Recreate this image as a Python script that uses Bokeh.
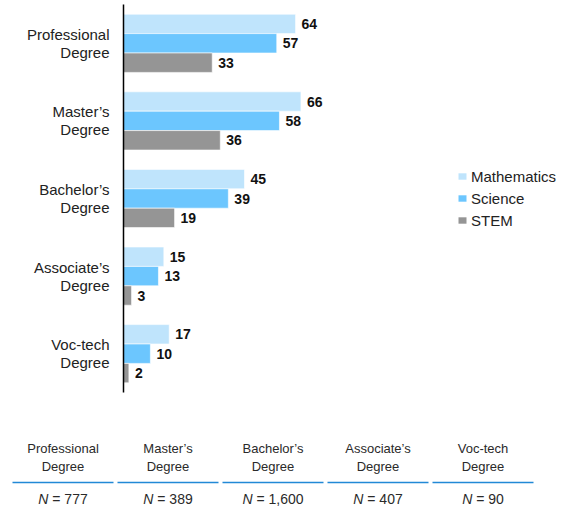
from bokeh.plotting import figure
from bokeh.models import ColumnDataSource, FactorRange, Range1d, Legend, LegendItem
from bokeh.transform import dodge
from bokeh.embed import file_html
from bokeh.resources import INLINE
from bokeh.core.properties import value

# ---------------- data ----------------
degrees = ["Professional Degree", "Master\u2019s Degree", "Bachelor\u2019s Degree",
           "Associate\u2019s Degree", "Voc-tech Degree"]
mathematics = [64, 66, 45, 15, 17]
science = [57, 58, 39, 13, 10]
stem = [33, 36, 19, 3, 2]
sample_n = [777, 389, 1600, 407, 90]
series_names = ["Mathematics", "Science", "STEM"]

# ---------------- styles ----------------
FONT = "Liberation Sans"
COLORS = ["#BFE4FC", "#6CC6FE", "#959595"]
OFFSETS = [0.25, 0.0, -0.25]

two_line = [d.rsplit(" ", 1)[0] + "\n" + d.rsplit(" ", 1)[1] for d in degrees]

src = ColumnDataSource(dict(
    cat=two_line,
    math=mathematics, sci=science, stem=stem,
    math_t=[str(v) for v in mathematics],
    sci_t=[str(v) for v in science],
    stem_t=[str(v) for v in stem],
))

p = figure(width=572, height=400,
           y_range=FactorRange(factors=two_line[::-1], range_padding=0),
           x_range=Range1d(0, 167),
           output_backend="svg", toolbar_location=None,
           min_border_left=123, min_border_right=0,
           min_border_top=4, min_border_bottom=8)
p.outline_line_color = None
p.xgrid.visible = False
p.ygrid.visible = False
p.xaxis.visible = False
p.yaxis.axis_line_color = "black"
p.yaxis.axis_line_width = 1.5
p.yaxis.major_tick_out = 0
p.yaxis.major_tick_in = 0
p.yaxis.minor_tick_out = 0
p.yaxis.major_label_standoff = 14
p.yaxis.major_label_text_font = FONT
p.yaxis.major_label_text_font_size = "15px"
p.yaxis.major_label_text_line_height = 1.05
p.yaxis.major_label_text_color = "#222222"

legend_items = []
for col, off, color, name in zip(["math", "sci", "stem"], OFFSETS, COLORS, series_names):
    p.hbar(y=dodge("cat", off, range=p.y_range), left=0, right=col, height=0.25,
           fill_color=color, line_color="white", line_alpha=0.6, line_width=1, source=src)
    p.text(x=col, y=dodge("cat", off, range=p.y_range), text=col + "_t",
           x_offset=6, text_baseline="middle", text_align="left",
           text_font=value(FONT), text_font_style="bold", text_font_size="14px",
           text_color="#111111", source=src)
    # zero-height twin used only for a clean legend swatch
    sw = p.hbar(y=dodge("cat", off, range=p.y_range), left=0, right=col, height=0,
                fill_color=color, line_color=None, source=src)
    legend_items.append(LegendItem(label=name, renderers=[sw], index=0))

legend = Legend(items=legend_items,
                location=(334, 161), padding=0, margin=0, spacing=0,
                label_height=22, glyph_height=8, glyph_width=10, label_standoff=4,
                label_text_font=FONT, label_text_font_size="15px", label_text_color="#222222",
                border_line_color=None, background_fill_alpha=0)
p.add_layout(legend)

# ---------------- table ----------------
W = {"N": 0.722, " ": 0.278, "=": 0.584, ",": 0.278}
def est_width(s, size):
    return sum(W.get(c, 0.556) for c in s) * size

NSIZE = 14
n_rest = ["= {:,}".format(n) for n in sample_n]
n_total = [est_width("N " + r, NSIZE) for r in n_rest]
tsrc = ColumnDataSource(dict(
    cat=degrees,
    line1=[d.rsplit(" ", 1)[0] for d in degrees],
    line2=[d.rsplit(" ", 1)[1] for d in degrees],
    n_it=["N"] * len(degrees),
    n_rest=n_rest,
    off_n=[-w / 2 for w in n_total],
    off_rest=[-w / 2 + (W["N"] + W[" "]) * NSIZE for w in n_total],
))

t = figure(width=535, height=110,
           x_range=FactorRange(factors=degrees, range_padding=0),
           y_range=Range1d(110, 0),
           output_backend="svg", toolbar_location=None,
           min_border_left=10, min_border_right=0, min_border_top=0, min_border_bottom=0)
t.outline_line_color = None
t.xaxis.visible = False
t.yaxis.visible = False
t.xgrid.visible = False
t.ygrid.visible = False

common = dict(text_font=value(FONT), text_color="#2A2A2A", text_baseline="middle", source=tsrc)
t.text(x="cat", y=48, text="line1", text_align="center", text_font_size="13px", **common)
t.text(x="cat", y=66, text="line2", text_align="center", text_font_size="13px", **common)
t.rect(x="cat", y=82, width=0.962, height=1.6, height_units="screen",
       fill_color="#2289D6", line_color=None, source=tsrc)
t.text(x="cat", y=98, text="n_it", x_offset="off_n", text_align="left",
       text_font_style="italic", text_font_size=f"{NSIZE}px", **common)
t.text(x="cat", y=98, text="n_rest", x_offset="off_rest", text_align="left",
       text_font_size=f"{NSIZE}px", **common)

open("out.html", "w").write(file_html([p, t], INLINE))
